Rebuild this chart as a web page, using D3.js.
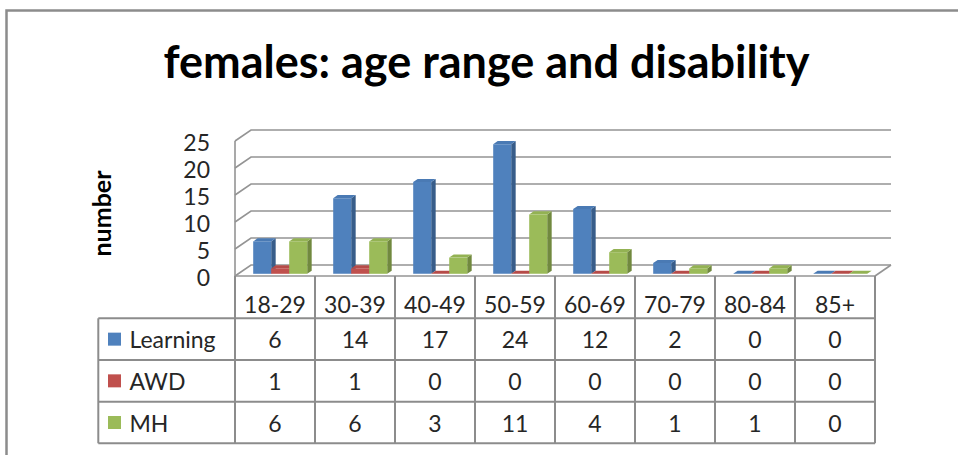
<!DOCTYPE html>
<html>
<head>
<meta charset="utf-8">
<script src="https://cdn.jsdelivr.net/npm/d3@7"></script>
<style>
  html, body { margin: 0; padding: 0; background: #fff; }
  svg { display: block; }
  text { font-family: Lato, "Open Sans", sans-serif; }
</style>
</head>
<body>
<svg id="chart" width="958" height="455"></svg>
<script>
// Age ranges (categories) and counts per disability group
const categories = ["18-29", "30-39", "40-49", "50-59", "60-69", "70-79", "80-84", "85+"];
const seriesNames = ["Learning", "AWD", "MH"];
const learning = [6, 14, 17, 24, 12, 2, 0, 0];
const awd = [1, 1, 0, 0, 0, 0, 0, 0];
const mh = [6, 6, 3, 11, 4, 1, 1, 0];
const yTicks = [0, 5, 10, 15, 20, 25];

const seriesValues = [learning, awd, mh];
const faceColors = [
  { front: "#4F81BD", side: "#385D8A", top: "#4A7AB4" },
  { front: "#C0504D", side: "#8C3A37", top: "#B64B48" },
  { front: "#9BBB59", side: "#71893F", top: "#93B253" }
];

const svg = d3.select("#chart");
const gridColor = "#949494";
const lineColor = "#8c8c8c";
const textColor = "#262626";

// Outer chart frame (top and left edges)
svg.append("path")
  .attr("d", "M6.5,455 L6.5,10.5 L958,10.5")
  .attr("fill", "none").attr("stroke", lineColor).attr("stroke-width", 2.5);

// Title
svg.append("text")
  .attr("x", 486.5).attr("y", 78)
  .attr("text-anchor", "middle")
  .attr("font-weight", "bold").attr("font-size", 45)
  .attr("fill", "#000")
  .text("females: age range and disability");

// Scales: x on the front plane, y on the front plane; depth shifts points up-right
const x = d3.scaleBand().domain(categories).range([235, 875]);
const y = d3.scaleLinear().domain([0, 25]).range([276, 141]);
const DX = 16, DY = -11;
const proj = (px, v, z) => [px + z * DX, y(v) + z * DY];

const walls = svg.append("g");
// Back-wall gridlines and left-wall diagonals
yTicks.forEach(t => {
  const a = proj(x.range()[0], t, 0);
  const b = proj(x.range()[0], t, 1);
  const c = proj(x.range()[1], t, 1);
  walls.append("path")
    .attr("d", `M${a[0]},${a[1]} L${b[0]},${b[1]} L${c[0]},${c[1]}`)
    .attr("fill", "none").attr("stroke", gridColor).attr("stroke-width", 1.6);
});
// Left wall front edge
{
  const a = proj(x.range()[0], 0, 0), b = proj(x.range()[0], 25, 0);
  walls.append("line").attr("x1", a[0]).attr("y1", a[1]).attr("x2", b[0]).attr("y2", b[1])
    .attr("stroke", gridColor).attr("stroke-width", 1.6);
}
// Floor right edge
{
  const a = proj(x.range()[1], 0, 0), b = proj(x.range()[1], 0, 1);
  walls.append("line").attr("x1", a[0]).attr("y1", a[1]).attr("x2", b[0]).attr("y2", b[1])
    .attr("stroke", gridColor).attr("stroke-width", 1.6);
}

// Y axis labels
const yAxis = d3.axisLeft(y).tickValues(yTicks).tickSize(0).tickPadding(0);
const ga = svg.append("g").attr("transform", "translate(210,2.5)").call(yAxis);
ga.select(".domain").remove();
ga.selectAll("text")
  .attr("font-family", "Lato, sans-serif").attr("font-size", 23).attr("fill", textColor);

// Y axis title
svg.append("text")
  .attr("transform", "translate(111,213.5) rotate(-90)")
  .attr("text-anchor", "middle")
  .attr("font-weight", "bold").attr("font-size", 25).attr("fill", "#000")
  .text("number");

// 3D bars
const inner = d3.scaleBand().domain(seriesNames).range([15, 69]);
const Z0 = 0.2, Z1 = 0.48;
const bars = svg.append("g");
categories.forEach((cat, i) => {
  seriesNames.forEach((s, j) => {
    const v = seriesValues[j][i];
    const x0 = x(cat) + inner(s), x1 = x0 + inner.bandwidth();
    const fbl = proj(x0, 0, Z0), fbr = proj(x1, 0, Z0);
    const ftl = proj(x0, v, Z0), ftr = proj(x1, v, Z0);
    const btl = proj(x0, v, Z1), btr = proj(x1, v, Z1), bbr = proj(x1, 0, Z1);
    const col = faceColors[j];
    const poly = pts => "M" + pts.map(p => p.join(",")).join("L") + "Z";
    bars.append("path").attr("d", poly([fbr, ftr, btr, bbr])).attr("fill", col.side);
    bars.append("path").attr("d", poly([ftl, ftr, btr, btl])).attr("fill", col.top);
    bars.append("path").attr("d", poly([fbl, fbr, ftr, ftl])).attr("fill", col.front);
  });
});

// Floor front edge / table top
svg.append("line")
  .attr("x1", 235).attr("y1", y(0)).attr("x2", 875).attr("y2", y(0))
  .attr("stroke", gridColor).attr("stroke-width", 1.6);

// Data table
const table = svg.append("g");
const rowTops = [318.3, 360, 401.7, 443.3];
const tableLeft = 98.3;
rowTops.forEach(ry => {
  table.append("line").attr("x1", tableLeft).attr("x2", 875).attr("y1", ry).attr("y2", ry)
    .attr("stroke", lineColor).attr("stroke-width", 2);
});
table.append("line").attr("x1", tableLeft).attr("x2", tableLeft)
  .attr("y1", rowTops[0]).attr("y2", rowTops[3])
  .attr("stroke", lineColor).attr("stroke-width", 2);
const colEdges = categories.map(c => x(c)).concat([x.range()[1]]);
colEdges.forEach(cx => {
  table.append("line").attr("x1", cx).attr("x2", cx).attr("y1", y(0)).attr("y2", rowTops[3])
    .attr("stroke", lineColor).attr("stroke-width", 2);
});

// Category header labels
categories.forEach(cat => {
  table.append("text")
    .attr("x", x(cat) + x.bandwidth() / 2).attr("y", 304)
    .attr("text-anchor", "middle").attr("dominant-baseline", "central")
    .attr("font-size", 23).attr("fill", textColor)
    .text(cat);
});

// Series rows: legend key, name and values
seriesNames.forEach((s, j) => {
  const cy = (rowTops[j] + rowTops[j + 1]) / 2;
  table.append("rect")
    .attr("x", 108).attr("y", cy - 6.5).attr("width", 13).attr("height", 13)
    .attr("fill", faceColors[j].front);
  table.append("text")
    .attr("x", 129.5).attr("y", cy)
    .attr("dominant-baseline", "central")
    .attr("font-size", 23).attr("fill", textColor)
    .text(s);
  categories.forEach((cat, i) => {
    table.append("text")
      .attr("x", x(cat) + x.bandwidth() / 2).attr("y", cy)
      .attr("text-anchor", "middle").attr("dominant-baseline", "central")
      .attr("font-size", 23).attr("fill", textColor)
      .text(seriesValues[j][i]);
  });
});
</script>
</body>
</html>
